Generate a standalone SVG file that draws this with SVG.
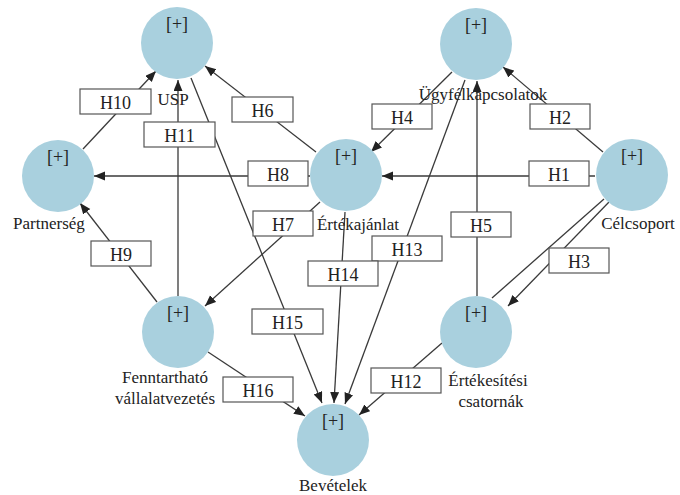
<svg xmlns="http://www.w3.org/2000/svg" width="680" height="495" viewBox="0 0 680 495" font-family="'Liberation Serif', 'Times New Roman', serif">
<style>
.n{fill:#a9d0de}
.t{fill:#222;text-anchor:middle}
.p{font-size:18px}
.l{font-size:17px}
.c{stroke:#3a3a3a;stroke-width:1.3;fill:none}
.a{marker-end:url(#ah)}
.b{fill:#fff;stroke:#555;stroke-width:1.2}
.bt{font-size:18px;fill:#222;text-anchor:middle}
</style>
<defs>
<marker id="ah" markerUnits="userSpaceOnUse" markerWidth="12" markerHeight="10" refX="11" refY="4.5" orient="auto">
<path d="M0,0 L11,4.5 L0,9 z" fill="#222"/>
</marker>
</defs>
<rect width="680" height="495" fill="#fff"/>
<g id="connectors">
<line class="c a" x1="83" y1="149" x2="156" y2="71"/>
<line class="c a" x1="178" y1="296" x2="178" y2="80"/>
<line class="c a" x1="316" y1="152" x2="205" y2="66"/>
<line class="c a" x1="310" y1="176" x2="94" y2="176"/>
<line class="c a" x1="191" y1="78" x2="322" y2="403"/>
<line class="c a" x1="320" y1="202" x2="205" y2="306"/>
<line class="c a" x1="157" y1="302" x2="80" y2="203"/>
<line class="c a" x1="452" y1="72" x2="371" y2="152"/>
<line class="c a" x1="603" y1="152" x2="503" y2="67"/>
<line class="c a" x1="595" y1="176" x2="382" y2="176"/>
<line class="c a" x1="477" y1="296" x2="477" y2="81"/>
<line class="c a" x1="465" y1="80" x2="345" y2="404"/>
<line class="c a" x1="345" y1="212" x2="334" y2="403"/>
<line class="c" x1="604" y1="199" x2="492" y2="298"/>
<line class="c a" x1="609" y1="202" x2="508" y2="306"/>
<line class="c a" x1="442" y1="343" x2="359" y2="415"/>
<line class="c a" x1="208" y1="352" x2="305" y2="416"/>
<rect class="b" x="80" y="89" width="71" height="25"/><text class="bt" x="115.5" y="109">H10</text>
<rect class="b" x="144" y="122" width="71" height="25"/><text class="bt" x="179.5" y="142">H11</text>
<rect class="b" x="232" y="97" width="61" height="25"/><text class="bt" x="262.5" y="117">H6</text>
<rect class="b" x="248" y="161" width="60" height="25"/><text class="bt" x="278" y="181">H8</text>
<rect class="b" x="253" y="211" width="60" height="25"/><text class="bt" x="283" y="231">H7</text>
<rect class="b" x="91" y="241" width="60" height="25"/><text class="bt" x="121" y="261">H9</text>
<rect class="b" x="372" y="104" width="60" height="25"/><text class="bt" x="402" y="124">H4</text>
<rect class="b" x="530" y="104" width="60" height="25"/><text class="bt" x="560" y="124">H2</text>
<rect class="b" x="529" y="161" width="60" height="25"/><text class="bt" x="559" y="181">H1</text>
<rect class="b" x="451" y="212" width="60" height="25"/><text class="bt" x="481" y="232">H5</text>
<rect class="b" x="372" y="236" width="70" height="25"/><text class="bt" x="407" y="256">H13</text>
<rect class="b" x="308" y="261" width="70" height="25"/><text class="bt" x="343" y="281">H14</text>
<rect class="b" x="549" y="248" width="60" height="25"/><text class="bt" x="579" y="268">H3</text>
<rect class="b" x="252" y="309" width="71" height="25"/><text class="bt" x="287.5" y="329">H15</text>
<rect class="b" x="223" y="377" width="70" height="25"/><text class="bt" x="258" y="397">H16</text>
<rect class="b" x="371" y="368" width="70" height="25"/><text class="bt" x="406" y="388">H12</text>
</g>
<g id="usp">
<circle class="n" cx="177" cy="43" r="36"/>
<text class="t p" x="177" y="30">[+]</text>
<text class="t l" x="173" y="105">USP</text>
</g>
<g id="partnerseg">
<circle class="n" cx="58" cy="176" r="36"/>
<text class="t p" x="58" y="163">[+]</text>
<text class="t l" x="49" y="229">Partnerség</text>
</g>
<g id="ertekajanlat">
<circle class="n" cx="346" cy="175" r="36"/>
<text class="t p" x="346" y="162">[+]</text>
<text class="t l" x="358" y="230">Értékajánlat</text>
</g>
<g id="ugyfelkapcsolatok">
<circle class="n" cx="476" cy="44" r="36"/>
<text class="t p" x="476" y="31">[+]</text>
<text class="t l" x="483" y="100">Ügyfélkapcsolatok</text>
</g>
<g id="celcsoport">
<circle class="n" cx="632" cy="175" r="36"/>
<text class="t p" x="632" y="162">[+]</text>
<text class="t l" x="638" y="229">Célcsoport</text>
</g>
<g id="fenntarthato">
<circle class="n" cx="178" cy="332" r="36"/>
<text class="t p" x="178" y="319">[+]</text>
<text class="t l" x="165" y="383">Fenntartható</text>
<text class="t l" x="165" y="404">vállalatvezetés</text>
</g>
<g id="ertekesitesi">
<circle class="n" cx="476" cy="332" r="36"/>
<text class="t p" x="476" y="319">[+]</text>
<text class="t l" x="488" y="386">Értékesítési</text>
<text class="t l" x="491" y="407">csatornák</text>
</g>
<g id="bevetelek">
<circle class="n" cx="333" cy="440" r="36"/>
<text class="t p" x="333" y="427">[+]</text>
<text class="t l" x="333" y="491">Bevételek</text>
</g>
</svg>
